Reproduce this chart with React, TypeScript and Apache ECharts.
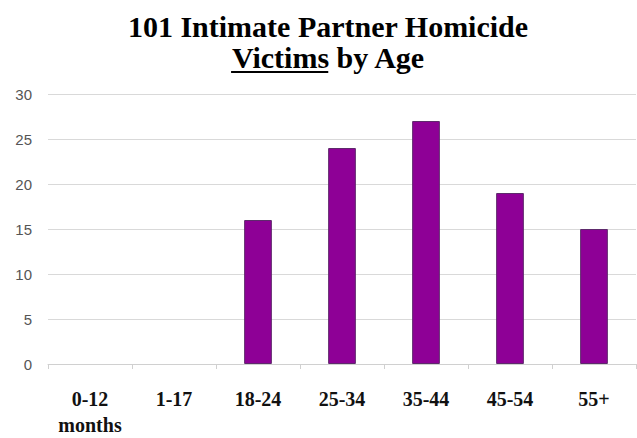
import React, { useEffect, useRef } from "react";
import * as echarts from "echarts";

const categories = ["0-12\nmonths", "1-17", "18-24", "25-34", "35-44", "45-54", "55+"];
const victims = [0, 0, 16, 24, 27, 19, 15];
const titleLine1 = "101 Intimate Partner Homicide";
const titleUnderlined = "Victims";
const titleRest = " by Age";

const SERIF = "Liberation Serif, Times New Roman, serif";
const SANS = "Liberation Sans, Arial, sans-serif";

function measure(text: string, font: string): number {
  const c = document.createElement("canvas").getContext("2d");
  if (!c) return text.length * 15;
  c.font = font;
  return c.measureText(text).width;
}

export default function App() {
  const ref = useRef<HTMLDivElement>(null);
  useEffect(() => {
    if (!ref.current) return;
    const chart = echarts.init(ref.current, undefined, { renderer: "svg" });
    const cx = 328;
    const canvasFont = 'bold 30px "Liberation Serif", serif';
    const fullW = measure(titleUnderlined + titleRest, canvasFont);
    const uW = measure(titleUnderlined, canvasFont);
    const x0 = cx - fullW / 2;
    const titleStyle = {
      fontFamily: SERIF,
      fontWeight: "bold",
      fontSize: 30,
      fill: "#000000",
      align: "center",
      verticalAlign: "middle",
    };
    chart.setOption({
      animation: false,
      backgroundColor: "#ffffff",
      graphic: [
        { type: "text", x: cx, y: 26, style: { ...titleStyle, text: titleLine1 } },
        { type: "text", x: cx, y: 57, style: { ...titleStyle, text: titleUnderlined + titleRest } },
        {
          type: "line",
          shape: { x1: x0, y1: 72, x2: x0 + uW, y2: 72 },
          style: { stroke: "#000000", lineWidth: 2 },
        },
      ],
      grid: { left: 48, right: 1, top: 94, bottom: 74, containLabel: false },
      xAxis: {
        type: "category",
        data: categories,
        boundaryGap: true,
        axisLine: { show: true, lineStyle: { color: "#d0d0d0", width: 1 } },
        axisTick: { show: true, alignWithLabel: false, length: 5, lineStyle: { color: "#d0d0d0" } },
        axisLabel: {
          interval: 0,
          margin: 22,
          fontFamily: SERIF,
          fontWeight: "bold",
          fontSize: 20,
          lineHeight: 26,
          color: "#111111",
        },
      },
      yAxis: {
        type: "value",
        min: 0,
        max: 30,
        interval: 5,
        axisLine: { show: false },
        axisTick: { show: false },
        splitLine: { show: true, lineStyle: { color: "#d9d9d9", width: 1 } },
        axisLabel: {
          margin: 16,
          fontFamily: SANS,
          fontSize: 15,
          color: "#555555",
        },
      },
      series: [
        {
          type: "bar",
          data: victims.map((v) => ({
            value: v,
            itemStyle: { borderWidth: v > 0 ? 1 : 0 },
          })),
          barWidth: "33%",
          itemStyle: { color: "#8e0096", borderColor: "#5e2a6c" },
        },
      ],
    });
    return () => chart.dispose();
  }, []);
  return <div ref={ref} style={{ width: 637, height: 438, position: "absolute", left: 0, top: 0 }} />;
}
